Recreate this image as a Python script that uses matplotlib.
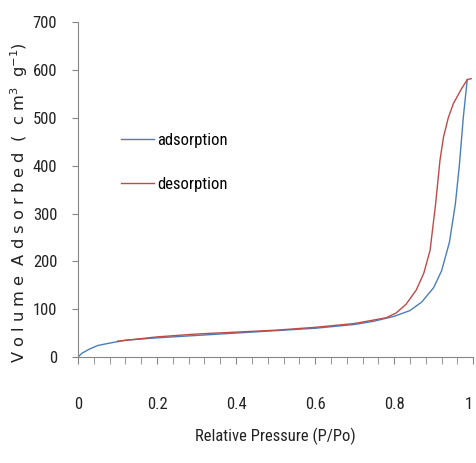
import matplotlib
matplotlib.use("Agg")
import matplotlib.pyplot as plt
from matplotlib.ticker import MultipleLocator
from matplotlib import font_manager

ads_x = [0, 0.01, 0.03, 0.05, 0.08, 0.12, 0.2, 0.3, 0.4, 0.5, 0.6, 0.7, 0.75, 0.8,
         0.84, 0.87, 0.9, 0.92, 0.94, 0.955, 0.965, 0.975, 0.985]
ads_y = [0, 8, 17, 24, 29, 35, 40, 45, 50, 55, 60, 68, 75, 85,
         97, 115, 145, 180, 240, 320, 400, 500, 580]

des_x = [0.995, 0.985, 0.97, 0.95, 0.937, 0.925, 0.916, 0.905, 0.891, 0.875, 0.856,
         0.83, 0.805, 0.78, 0.7, 0.6, 0.5, 0.4, 0.3, 0.2, 0.1]
des_y = [582, 580, 560, 530, 500, 460, 411, 320, 223, 175, 140,
         110, 92, 82, 70, 62, 56, 52, 48, 42, 33]

names = {f.name for f in font_manager.fontManager.ttflist}
narrow = [n for n in ['Liberation Sans Narrow', 'Roboto Condensed', 'Open Sans Condensed', 'Lato'] if n in names][:1] + ['DejaVu Sans']

fig = plt.figure(figsize=(4.76, 4.63), dpi=100)
ax = fig.add_axes([0.164, 0.229, 0.830, 0.723])

ax.plot(ads_x, ads_y, color='#4a7ebb', lw=1.0, label='adsorption')
ax.plot(des_x, des_y, color='#be4b48', lw=1.0, label='desorption')

ax.set_xlim(0, 1)
ax.set_ylim(0, 700)
ax.xaxis.set_major_locator(MultipleLocator(0.2))
ax.xaxis.set_minor_locator(MultipleLocator(0.04))
ax.yaxis.set_major_locator(MultipleLocator(100))
ax.set_xticks([0, 0.2, 0.4, 0.6, 0.8, 1.0])
ax.set_xticklabels(['0', '0.2', '0.4', '0.6', '0.8', '1'])

for s in ['top', 'right']:
    ax.spines[s].set_visible(False)
for s in ['left', 'bottom']:
    ax.spines[s].set_color('#868686')
    ax.spines[s].set_linewidth(0.8)

ax.tick_params(axis='x', which='both', direction='out', color='#868686', pad=24,
               labelsize=12, labelcolor='#222222')
ax.tick_params(axis='x', which='major', length=5)
ax.tick_params(axis='x', which='minor', length=5)
ax.tick_params(axis='y', which='major', direction='out', length=4, color='#868686',
               pad=11, labelsize=12, labelcolor='#222222')
for lab in ax.get_xticklabels() + ax.get_yticklabels():
    lab.set_family(narrow)
ax.get_xticklabels()[-1].set_horizontalalignment('right')

ax.set_xlabel('Relative Pressure (P/Po)', family=narrow, fontsize=12, color='#222222', labelpad=11)
fig.text(0.040, 0.563, 'V o l u m e  A d s o r b e d  (  c m$^{3}$  g$^{-1}$)', rotation=90,
         ha='center', va='center', fontsize=11.7, color='#222222')

leg = ax.legend(loc='upper left', bbox_to_anchor=(0.07, 0.715), frameon=False,
                prop={'family': narrow, 'size': 12}, handlelength=2.0, labelspacing=1.75,
                handletextpad=0.2)

fig.savefig('out.png', dpi=100)
